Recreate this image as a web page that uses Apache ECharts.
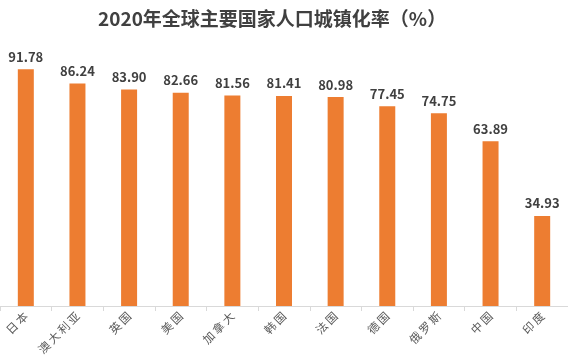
<!DOCTYPE html>
<html><head><meta charset="utf-8">
<script src="https://cdn.jsdelivr.net/npm/echarts@6/dist/echarts.min.js"></script>
<style>html,body{margin:0;padding:0;background:#fff}#c{width:568px;height:361px}</style>
</head><body><div id="c"></div>
<script>
const categories = ['日本','澳大利亚','英国','美国','加拿大','韩国','法国','德国','俄罗斯','中国','印度'];
const values = [91.78, 86.24, 83.90, 82.66, 81.56, 81.41, 80.98, 77.45, 74.75, 63.89, 34.93];
const titleText = '2020年全球主要国家人口城镇化率（%）';
const chart = echarts.init(document.getElementById('c'));
chart.setOption({
  animation: false,
  title: {
    text: titleText, left: 93, top: 4,
    textStyle: {fontFamily: 'Noto Sans CJK SC', fontSize: 19, fontWeight: 'bold', color: '#404040'}
  },
  grid: {left: 0, right: 0, top: 48, bottom: 55},
  xAxis: {
    type: 'category', data: categories,
    axisLine: {lineStyle: {color: '#d9d9d9', width: 1}},
    axisTick: {show: true, length: 5, lineStyle: {color: '#d9d9d9'}},
    axisLabel: {rotate: 45, interval: 0, margin: 8, fontSize: 11.5, color: '#595959', fontFamily: 'Noto Sans CJK SC',
      formatter: v => v.split('').join('\u2009')}
  },
  yAxis: {type: 'value', min: 0, max: 100, show: false, splitLine: {show: false}},
  series: [{
    type: 'bar', data: values, barWidth: 16,
    itemStyle: {color: '#ed7d31'},
    label: {show: true, position: 'top', distance: 6, formatter: p => p.value.toFixed(2),
      fontFamily: 'Noto Sans CJK SC', fontSize: 13, fontWeight: 'bold', color: '#404040'}
  }]
});
</script></body></html>
